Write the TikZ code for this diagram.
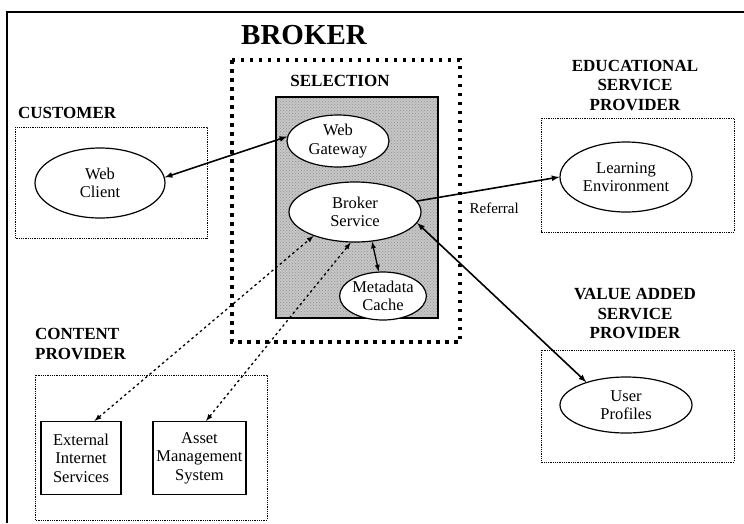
\documentclass[tikz,border=0pt]{standalone}
\usepackage{fontspec}
\setmainfont{Liberation Serif}
\usetikzlibrary{arrows,shapes.geometric,patterns}

\begin{document}
\begin{tikzpicture}[x=1pt,y=-1pt,>=latex,
  comp/.style={ellipse,draw,line width=1.2pt,fill=white,align=center,inner sep=0pt,font=\fontsize{16.5}{18.5}\selectfont},
  sys/.style={rectangle,draw,line width=1.2pt,fill=white,align=center,inner sep=0pt,minimum width=80pt,minimum height=73pt,font=\fontsize{16.5}{18.5}\selectfont},
  grouplabel/.style={align=center,inner sep=0pt,font=\fontsize{17}{19.5}\bfseries},
  groupbox/.style={draw,line width=0.8pt,densely dotted},
  link/.style={line width=1.6pt,<->},
  datalink/.style={line width=1.3pt,dash pattern=on 2.5pt off 3pt,<->}]
  \useasboundingbox (0,0) rectangle (744,523);
  \coordinate (frametl) at (7,12);
  \coordinate (framebl) at (7,523);
  \coordinate (frametr) at (744,12);
  \draw [line width=1.2pt] (framebl) -- (frametl) -- (frametr);
  \node [font=\fontsize{29}{32}\bfseries] (broker title) at (304,35) {BROKER};
  \draw [line width=3.5pt,dash pattern=on 3.5pt off 5.5pt] (232,60) rectangle (460,342);
  \node [grouplabel] (selection title) at (340,81) {SELECTION};
  \fill [gray!45] (276,97) rectangle (438,318);
  \fill [pattern=crosshatch dots,pattern color=gray!85] (276,97) rectangle (438,318);
  \draw [line width=1.2pt] (276,97) rectangle (438,318);
  \node [comp,minimum width=102pt,minimum height=52pt] (gateway) at (338,141) {Web\\Gateway};
  \node [comp,minimum width=132pt,minimum height=60pt] (brokersvc) at (355,212) {Broker\\Service};
  \node [comp,minimum width=72pt,minimum height=48pt] (meta) at (383,296) {Metadata\\Cache};
  \node [grouplabel,anchor=west] (customer title) at (18,113) {CUSTOMER};
  \draw [groupbox] (15,127) rectangle (207,238);
  \node [comp,minimum width=130pt,minimum height=70pt] (client) at (100,183) {Web\\Client};
  \node [grouplabel] (edu title) at (635,85) {EDUCATIONAL\\SERVICE\\PROVIDER};
  \draw [groupbox] (541,118) rectangle (734,232);
  \node [comp,minimum width=132pt,minimum height=70pt] (learn) at (626,177) {Learning\\Environment};
  \node [grouplabel] (value title) at (635,314) {VALUE ADDED\\SERVICE\\PROVIDER};
  \draw [groupbox] (541,350) rectangle (734,462);
  \node [comp,minimum width=132pt,minimum height=56pt] (profiles) at (626,405) {User\\Profiles};
  \node [grouplabel,align=left,anchor=west] (content title) at (35,344) {CONTENT\\PROVIDER};
  \draw [groupbox] (35,375) rectangle (267,520);
  \node [sys] (external) at (81,458) {External\\Internet\\Services};
  \node [sys,minimum width=93pt] (asset) at (199.5,458) {Asset\\Management\\System};
  \draw [link] (client.5) -- (gateway.175);
  \draw [link,->] (brokersvc.10) -- node [pos=0.34,anchor=north west,yshift=-6pt,font=\fontsize{15}{17}\selectfont] {Referral} (learn.west);
  \draw [link] (brokersvc.350) -- (profiles.150);
  \draw [link,line width=1.3pt] (brokersvc.300) -- (meta.100);
  \draw [datalink] (external.70) -- (brokersvc.210);
  \draw [datalink] (asset.80) -- (brokersvc.262);
\end{tikzpicture}
\end{document}
